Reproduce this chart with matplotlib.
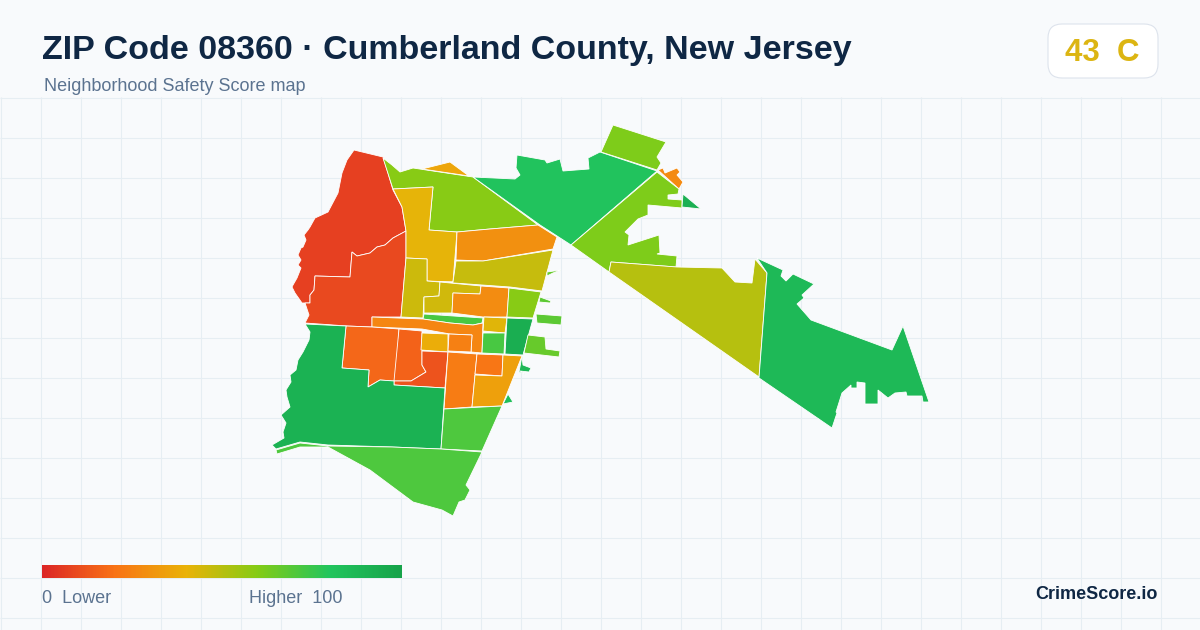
import numpy as np
import matplotlib
matplotlib.use('Agg')
import matplotlib.pyplot as plt
from matplotlib.colors import LinearSegmentedColormap
from matplotlib.patches import Polygon, FancyBboxPatch

title = 'ZIP Code 08360 \u00b7 Cumberland County, New Jersey'
subtitle = 'Neighborhood Safety Score map'
score_text = '43  C'
brand = 'CrimeScore.io'

# tract outlines, in the picture's own projected units
red_north = [(354,150),(383,157),(388,173),(393,190),(402,207),(406,231),(393,238),(385,245),(377,247),(370,253),(357,256),(352,252),(350,277),(315,276),(314,290),(310,295),(310,303),(302,303),(295,293),(292,287),(293,285),(297,278),(299,273),(301,268),(298,265),(301,260),(298,255),(301,248),(303,247),(306,240),(304,235),(308,230),(310,227),(315,218),(328,212),(338,193),(342,173),(347,160)]
red_south = [(406,231),(406,258),(401,317),(372,317),(372,327),(347,326),(305,323),(309,315),(305,303),(310,303),(310,295),(314,290),(315,276),(350,277),(352,252),(357,256),(370,253),(377,247),(385,245),(393,238)]
lime_band = [(383,158),(392,165),(400,172),(413,168),(473,177),(538,225),(490,229),(457,232),(429,230),(433,187),(393,189)]
amber_top = [(422,169),(450,162),(469,176)]
amber_west = [(393,189),(433,187),(429,230),(457,232),(453,282),(427,281),(427,259),(406,258),(406,231),(402,207)]
orange_north = [(457,232),(490,229),(538,225),(557,237),(553,249),(483,261),(456,260)]
olive_north = [(456,261),(483,261),(553,250),(542,291),(510,287),(440,282),(453,282)]
olive_west = [(406,258),(427,259),(427,281),(440,282),(439,296),(424,297),(423,318),(401,317)]
olive_mid = [(440,282),(481,286),(480,294),(453,293),(452,313),(424,313),(424,297),(439,296)]
orange_mid = [(453,293),(480,294),(481,286),(509,288),(507,317),(483,317),(452,313)]
lime_right = [(509,288),(541,292),(533,318),(507,317)]
green_strip = [(424,314),(483,318),(482,323),(473,325),(450,323),(423,319)]
orange_band = [(372,317),(423,319),(450,323),(473,325),(483,323),(482,353),(471,352),(472,335),(450,334),(422,329),(372,327)]
yellow_small = [(484,317),(507,318),(505,333),(483,331)]
green_small = [(483,333),(505,333),(504,354),(482,353)]
dark_green = [(507,318),(533,319),(523,355),(505,354)]
islet_a = [(536,314),(562,316),(561,325),(537,323)]
islet_b = [(528,335),(545,337),(546,349),(560,351),(559,357),(524,353)]
islet_c = [(540,297),(551,301),(550,303),(539,302)]
islet_d = [(547,272),(561,270),(553,273),(547,276)]
islet_e = [(522,356),(523,365),(531,368),(529,372),(520,371),(526,375),(519,372)]
islet_f = [(508,394),(513,402),(503,404)]
orange_west = [(346,326),(372,327),(399,329),(397,381),(394,381),(380,380),(368,387),(369,370),(342,368)]
orange_inner = [(399,329),(422,331),(422,351),(422,365),(426,372),(411,381),(394,381)]
amber_inner = [(422,333),(448,334),(448,352),(421,350)]
orange_cell = [(449,334),(472,335),(471,352),(448,351)]
red_inner = [(422,351),(448,352),(445,388),(394,385),(394,381),(411,381),(426,372),(422,365)]
orange_tall = [(448,352),(477,354),(472,407),(444,409)]
orange_sq = [(477,354),(503,355),(502,376),(475,374)]
amber_east = [(503,355),(522,356),(502,406),(472,407),(475,375),(502,376)]
green_sw = [(305,324),(346,326),(342,368),(369,370),(368,387),(380,380),(394,381),(394,385),(445,388),(441,449),(392,447),(328,445),(300,442),(276,449),(272,445),(284,438),(283,432),(286,423),(281,415),(290,407),(287,397),(286,390),(291,382),(290,375),(296,370),(298,360),(303,352),(309,340),(310,332)]
green_block = [(444,409),(502,406),(482,451),(441,449)]
green_south = [(276,450),(300,443),(328,446),(392,447),(441,449),(482,452),(466,485),(470,490),(465,500),(459,502),(453,516),(442,510),(413,502),(370,470),(328,447),(300,447),(277,454)]
green_ne = [(473,177),(515,179),(520,175),(516,168),(517,155),(545,160),(547,163),(560,159),(563,171),(589,169),(588,158),(600,152),(657,171),(571,245),(540,225)]
lime_top = [(613,125),(666,142),(657,157),(661,163),(657,170),(601,152)]
orange_tip = [(658,170),(663,168),(665,173),(677,168),(680,172),(677,175),(683,182),(679,189)]
lime_ne = [(657,172),(679,189),(678,194),(668,195),(668,199),(682,200),(682,208),(648,205),(648,215),(638,219),(625,232),(629,235),(628,245),(659,235),(660,253),(657,254),(677,256),(676,267),(611,262),(609,272),(571,245)]
green_tri = [(683,194),(701,209),(682,207)]
olive_east = [(611,262),(677,267),(722,268),(735,282),(752,283),(755,259),(767,273),(759,377),(609,272)]
green_east = [(757,258),(783,270),(781,276),(786,281),(793,274),(814,284),(802,295),(804,298),(797,304),(811,320),(892,350),(903,326),(929,402),(923,402),(922,396),(907,396),(906,392),(895,393),(888,398),(878,390),(878,404),(865,404),(865,383),(857,382),(857,388),(851,388),(851,385),(842,393),(836,412),(837,413),(832,428),(759,378),(767,273)]

tracts = [red_north, red_south, lime_band, amber_top, amber_west, orange_north, olive_north,
          olive_west, olive_mid, orange_mid, lime_right, green_strip, orange_band, yellow_small,
          green_small, dark_green, islet_a, islet_b, islet_c, islet_d, islet_e, islet_f,
          orange_west, orange_inner, amber_inner, orange_cell, red_inner, orange_tall,
          orange_sq, amber_east, green_sw, green_block, green_south, green_ne, lime_top,
          orange_tip, lime_ne, green_tri, olive_east, green_east]
scores = [7, 9, 59, 36, 41, 29, 47,
          46, 45, 28, 59, 72, 26, 42,
          72, 93, 68, 66, 68, 66, 88, 84,
          17, 16, 38, 24, 12, 23,
          21, 34, 91, 71, 71, 81, 61,
          27, 61, 92, 50, 87]

cmap_stops = [0, 0.2, 0.4, 0.6, 0.8, 1]
cmap_colors = ['#dc2626', '#f97316', '#eab308', '#84cc16', '#22c55e', '#16a34a']
cmap = LinearSegmentedColormap.from_list('safety', list(zip(cmap_stops, cmap_colors)))

grid_x = np.arange(0, 1200, 40) + 0.5
grid_y = np.arange(97, 630, 40) + 0.5

plt.rcParams['font.family'] = ['Liberation Sans', 'DejaVu Sans']

fig = plt.figure(figsize=(12, 6.3), dpi=100, facecolor='#f8fafc')
ax = fig.add_axes([0, 0, 1, 1])
ax.set_xlim(0, 1200)
ax.set_ylim(630, 0)
ax.axis('off')

# background grid, starts under the header
ax.vlines(grid_x, 97, 630, color='#e6eef3', lw=0.8, zorder=1)
ax.hlines(grid_y, 0, 1200, color='#e6eef3', lw=0.8, zorder=1)

for pts, s in zip(tracts, scores):
    ax.add_patch(Polygon(pts, closed=True, fc=cmap(s / 100), ec='white', lw=0.6, joinstyle='miter', zorder=2))

ax.text(42, 59.5, title, fontsize=24.48, fontweight='bold', color='#0f2744', va='baseline', ha='left', zorder=5)
ax.text(44, 91, subtitle, fontsize=12.96, color='#5b7390', va='baseline', ha='left', zorder=5)

badge = FancyBboxPatch((1060, 36), 86, 30, boxstyle='round,pad=12,rounding_size=14',
                       fc='white', ec='#dde3ec', lw=0.8, zorder=4)
ax.add_patch(badge)
ax.text(1065, 61, score_text, fontsize=22.5, fontweight='bold', color='#dcb512', va='baseline', ha='left', zorder=5)

# legend bar
grad = np.linspace(0, 1, 360).reshape(1, -1)
ax.imshow(grad, cmap=cmap, extent=(42, 402, 578, 565), aspect='auto', zorder=3)
ax.set_xlim(0, 1200)
ax.set_ylim(630, 0)
ax.text(42, 603, '0  Lower', fontsize=12.96, color='#5b7390', va='baseline', ha='left', zorder=5)
ax.text(249, 603, 'Higher  100', fontsize=12.96, color='#5b7390', va='baseline', ha='left', zorder=5)
ax.text(1158, 599, brand, fontsize=13, fontweight='bold', color='#0f2744', va='baseline', ha='right', zorder=5)

fig.savefig('out.png', dpi=100, facecolor=fig.get_facecolor())
